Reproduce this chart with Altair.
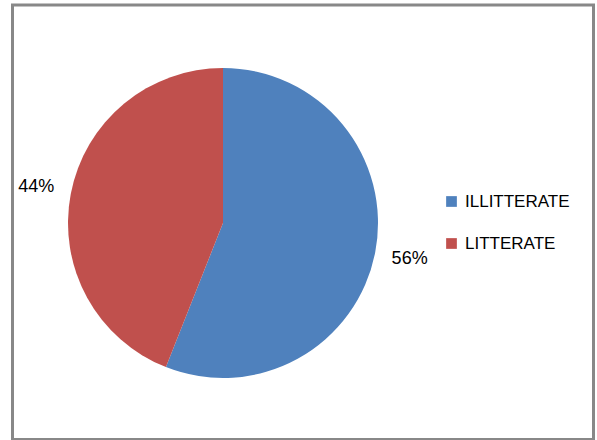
import altair as alt
import pandas as pd

categories = ["ILLITTERATE", "LITTERATE"]
values = [56, 44]
labels = ["56%", "44%"]
colors = ["#4F81BD", "#C0504D"]

df = pd.DataFrame({"category": categories, "value": values, "label": labels})

CX, CY = 223, 223

base = alt.Chart(df).encode(
    theta=alt.Theta("value:Q", stack=True),
    order=alt.Order("category:N"),
)

pie = base.mark_arc(outerRadius=155, stroke=None).encode(
    x=alt.value(CX),
    y=alt.value(CY),
    color=alt.Color(
        "category:N",
        scale=alt.Scale(domain=categories, range=colors),
        legend=alt.Legend(
            title=None,
            orient="none",
            legendX=443,
            legendY=193,
            symbolType="square",
            symbolSize=115,
            symbolStrokeWidth=0,
            labelFontSize=17,
            labelFont="Liberation Sans",
            labelColor="#000000",
            labelOffset=5,
            rowPadding=24,
        ),
    ),
)

text = base.mark_text(radius=190, fontSize=18, font="Liberation Sans", color="#000000").encode(
    x=alt.value(CX),
    y=alt.value(CY),
    text="label:N",
)

border = alt.Chart(df).mark_rect(
    fill=None, stroke="#888888", strokeWidth=3
).encode(
    x=alt.value(12.5), x2=alt.value(593.5), y=alt.value(5), y2=alt.value(439.5)
).transform_filter(alt.datum.category == "ILLITTERATE")

chart = (
    alt.layer(border, pie, text)
    .properties(width=597, height=440, autosize=alt.AutoSizeParams(type="none"), padding=0, background="white")
    .configure_view(stroke=None)
)

chart.save("out.html", embed_options={"renderer": "svg", "actions": False})
